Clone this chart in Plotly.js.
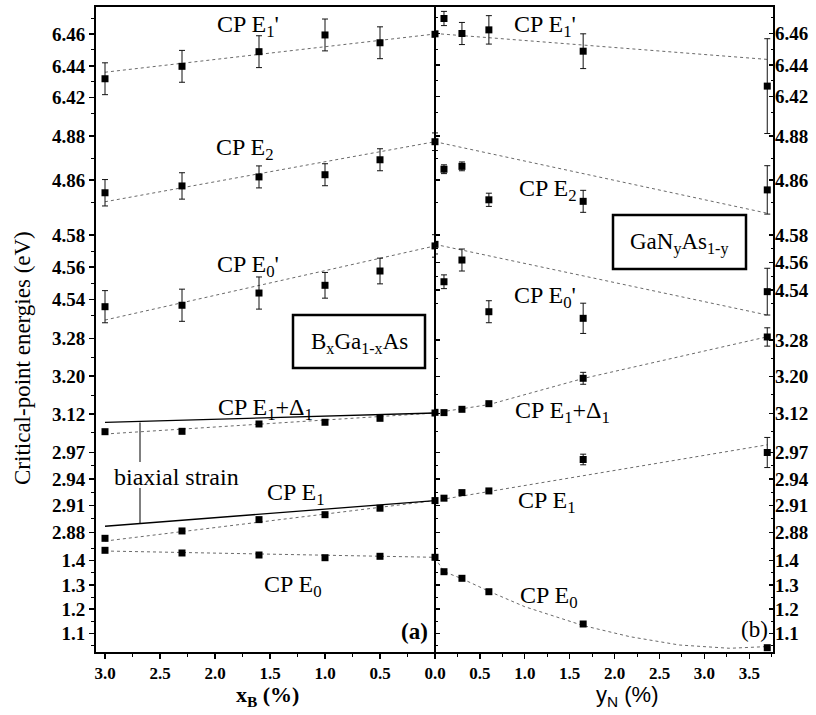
<!DOCTYPE html>
<html><head><meta charset="utf-8">
<script src="https://cdn.plot.ly/plotly-3.0.1.min.js"></script>
<style>html,body{margin:0;padding:0;background:#fff}#chart{width:816px;height:715px}</style>
</head><body><div id="chart"></div>
<script>
// ---------------- DATA ----------------
// Panel (a): BxGa1-xAs, x_B (%)
const xB = [3.0, 2.3, 1.6, 1.0, 0.5, 0.0];
const bE1p    = [6.4319, 6.4397, 6.4489, 6.4594, 6.4545, 6.4598];
const bE1pErr = [0.010, 0.010, 0.010, 0.010, 0.010, 0.0];
const bE2     = [4.8542, 4.8573, 4.8614, 4.8624, 4.8692, 4.8774];
const bE2Err  = [0.006, 0.006, 0.005, 0.005, 0.005, 0.004];
const bE0p    = [4.5354, 4.5363, 4.5439, 4.5487, 4.5576, 4.5732];
const bE0pErr = [0.010, 0.010, 0.010, 0.008, 0.008, 0.007];
const bE1D1   = [3.0826, 3.0834, 3.0989, 3.1025, 3.1109, 3.1221];
const bE1     = [2.8731, 2.8814, 2.8942, 2.8998, 2.9071, 2.9157];
const bE0     = [1.4434, 1.4323, 1.4240, 1.4128, 1.4186, 1.4145];
// fits (a)
const xBfit = [3.0, 0.0];
const bE1pFit  = [6.4360, 6.4600];
const bE2Fit   = [4.8501, 4.8774];
const bE0pFit  = [4.5271, 4.5732];
const bE1D1Fit = [3.0777, 3.1221];
const bE1D1Strain = [3.1025, 3.1221];
const bE1Fit   = [2.8700, 2.9157];
const bE1Strain = [2.8867, 2.9157];
const bE0Fit   = [1.4405, 1.4145];

// Panel (b): GaNyAs1-y, y_N (%)
const yN = [0.0, 0.1, 0.3, 0.6, 1.65, 3.7];
const nE1p    = [6.4598, 6.4695, 6.4600, 6.4623, 6.4488, 6.4267];
const nE1pErr = [0.0, 0.0045, 0.007, 0.009, 0.011, 0.030];
const nE2     = [4.8774, 4.8649, 4.8662, 4.8510, 4.8503, 4.8555];
const nE2Err  = [0.004, 0.002, 0.002, 0.003, 0.005, 0.011];
const nE0p    = [4.5732, 4.5460, 4.5618, 4.5242, 4.5194, 4.5388];
const nE0pErr = [0.007, 0.005, 0.008, 0.008, 0.011, 0.017];
const nE1D1   = [3.1221, 3.1215, 3.1287, 3.1410, 3.1964, 3.2866];
const nE1D1Err= [0, 0, 0, 0, 0.013, 0.020];
const nE1     = [2.9157, 2.9184, 2.9247, 2.9266, 2.9621, 2.9700];
const nE1Err  = [0, 0, 0, 0, 0.006, 0.017];
const nE0     = [1.4145, 1.3549, 1.3276, 1.2721, 1.1385, 1.0404];
// fits (b)
const yNfit = [0.0, 3.7];
const nE1pFit = [6.4600, 6.4436];
const nE2Fit  = [4.8774, 4.8449];
const nE0pFit = [4.5732, 4.5218];
const yNfitD1 = [0.0, 0.6, 1.65, 3.7];
const nE1D1Fit = [3.1210, 3.1390, 3.1960, 3.2870];
const nE1Fit  = [2.9157, 2.9787];
const yNfitE0 = [0.0, 0.1, 0.3, 0.6, 1.0, 1.65, 2.17, 2.72, 3.28, 3.7];
const nE0Fit  = [1.4130, 1.3550, 1.3260, 1.2740, 1.2100, 1.1320, 1.0860, 1.0516, 1.0380, 1.0450];

// tick labels
const xTicksL = [3.0, 2.5, 2.0, 1.5, 1.0, 0.5, 0.0];
const xTicksLText = ['3.0','2.5','2.0','1.5','1.0','0.5','0.0'];
const xTicksR = [0.5, 1.0, 1.5, 2.0, 2.5, 3.0, 3.5];
const xTicksRText = ['0.5','1.0','1.5','2.0','2.5','3.0','3.5'];
const yTickVals = {
  E1p:[6.42,6.44,6.46], E2:[4.86,4.88], E0p:[4.54,4.56,4.58],
  E1D1:[3.12,3.20,3.28], E1:[2.88,2.91,2.94,2.97], E0:[1.1,1.2,1.3,1.4]
};
const yTickText = {
  E1p:['6.42','6.44','6.46'], E2:['4.86','4.88'], E0p:['4.54','4.56','4.58'],
  E1D1:['3.12','3.20','3.28'], E1:['2.88','2.91','2.94','2.97'], E0:['1.1','1.2','1.3','1.4']
};
const yMinor = {
  E1p:[6.41,6.43,6.45,6.47], E2:[4.85,4.87], E0p:[4.53,4.55,4.57],
  E1D1:[3.08,3.16,3.24], E1:[2.895,2.925,2.955], E0:[1.05,1.15,1.25,1.35,1.45]
};

// ---------------- LAYOUT GEOMETRY ----------------
const L=95, R=774, T=6, B=653, XM=435;
const PW=R-L, PH=B-T;
const fx=p=>(p-L)/PW, fy=p=>(B-p)/PH;
function seg(v1,p1,v2,p2,pTop,pBot){
  const s=(v1-v2)/(p2-p1);
  return {range:[v1-(pBot-p1)*s, v1+(p1-pTop)*s], domain:[fy(pBot), fy(pTop)]};
}
const segs = ['E1p','E2','E0p','E1D1','E1','E0'];
const segLeft = [
  seg(6.46,34,6.42,97.7,6,125),
  seg(4.88,136,4.86,180,120,215),
  seg(4.58,235,4.54,299.3,222,330),
  seg(3.28,338.3,3.12,414,325,440),
  seg(2.97,452.5,2.88,532.2,437,547),
  seg(1.4,560.8,1.1,633.3,544,653)
];
const segRight = [
  seg(6.46,33.5,6.42,96.7,6,137),
  seg(4.88,136,4.86,180,128,218),
  seg(4.58,235,4.54,290,222,336),
  seg(3.28,340,3.12,413.3,326,440),
  seg(2.97,452.5,2.88,532.2,436,547),
  seg(1.4,560.8,1.1,633.3,546,653)
];
const SERIF='"Liberation Serif","Times New Roman",serif';
const SANS='"Liberation Sans",Arial,sans-serif';

function yid(panel,k){ const n = panel===0 ? k+1 : k+7; return n===1 ? 'y' : 'y'+n; }
function ykey(id){ return 'yaxis' + (id==='y' ? '' : id.slice(1)); }

const layout = {
  width:816, height:715,
  margin:{l:L, r:816-R, t:T, b:715-B, pad:0},
  paper_bgcolor:'white', plot_bgcolor:'rgba(0,0,0,0)',
  showlegend:false,
  font:{family:SERIF, color:'black'},
  shapes:[], annotations:[]
};
const tickFontX = {family:SERIF, size:17, color:'black', weight:'bold'};
const tickFontY = {family:SERIF, size:19, color:'black', weight:'bold'};
layout.xaxis = {
  domain:[0, fx(XM)], range:[PW*fx(XM)/110, 0], anchor:'y6',
  showgrid:false, zeroline:false, showline:false,
  tickmode:'array', tickvals:xTicksL, ticktext:xTicksLText,
  ticks:'outside', ticklen:5, tickwidth:1.3, tickcolor:'black', tickfont:tickFontX,
  minor:{tickmode:'array', tickvals:[2.75,2.25,1.75,1.25,0.75,0.25], ticks:'outside', ticklen:3, tickwidth:1, tickcolor:'black'}
};
layout.xaxis2 = {
  domain:[fx(XM), 1], range:[0, (R-XM)/89.8], anchor:'y12',
  showgrid:false, zeroline:false, showline:false,
  tickmode:'array', tickvals:xTicksR, ticktext:xTicksRText,
  ticks:'outside', ticklen:5, tickwidth:1.3, tickcolor:'black', tickfont:tickFontX,
  minor:{tickmode:'array', tickvals:[0.25,0.75,1.25,1.75,2.25,2.75,3.25,3.75], ticks:'outside', ticklen:3, tickwidth:1, tickcolor:'black'}
};
segs.forEach((name,k)=>{
  [0,1].forEach(panel=>{
    const sg = panel===0 ? segLeft[k] : segRight[k];
    const id = yid(panel,k);
    layout[ykey(id)] = {
      domain:sg.domain, range:sg.range, anchor: panel===0 ? 'x' : 'x2',
      side: panel===0 ? 'left' : 'right',
      showgrid:false, zeroline:false, showline:false,
      tickmode:'array', tickvals:yTickVals[name], ticktext:yTickText[name],
      ticks: panel===0 ? 'outside' : 'inside', mirror: panel===0 ? false : 'ticks',
      ticklen:5, tickwidth:1.3, tickcolor:'black', tickfont:tickFontY,
      minor:{tickmode:'array', tickvals:yMinor[name], ticks: panel===0 ? 'outside' : 'inside', ticklen:3, tickwidth:1, tickcolor:'black'}
    };
  });
});

// ---------------- TRACES ----------------
const traces = [];
function pts(x,y,err,yaxis,xaxis,size){
  const t = {x:x, y:y, xaxis:xaxis, yaxis:yaxis, type:'scatter', mode:'markers',
    marker:{symbol:'square', size:size||7, color:'black'}, hoverinfo:'skip'};
  if(err) t.error_y = {type:'data', array:err, visible:true, color:'#111', thickness:1, width:3};
  traces.push(t);
}
function fit(x,y,yaxis,xaxis,solid){
  traces.push({x:x, y:y, xaxis:xaxis, yaxis:yaxis, type:'scatter', mode:'lines',
    line: solid ? {color:'black', width:1.3} : {color:'#6a6a6a', width:1, dash:'dot'}, hoverinfo:'skip'});
}
// left panel
fit(xBfit,bE1pFit,'y','x'); pts(xB,bE1p,bE1pErr,'y','x');
fit(xBfit,bE2Fit,'y2','x'); pts(xB,bE2,bE2Err,'y2','x');
fit(xBfit,bE0pFit,'y3','x'); pts(xB,bE0p,bE0pErr,'y3','x');
fit(xBfit,bE1D1Fit,'y4','x'); fit(xBfit,bE1D1Strain,'y4','x',true); pts(xB,bE1D1,null,'y4','x');
fit(xBfit,bE1Fit,'y5','x'); fit(xBfit,bE1Strain,'y5','x',true); pts(xB,bE1,null,'y5','x');
fit(xBfit,bE0Fit,'y6','x'); pts(xB,bE0,null,'y6','x');
// right panel
fit(yNfit,nE1pFit,'y7','x2'); pts(yN,nE1p,nE1pErr,'y7','x2');
fit(yNfit,nE2Fit,'y8','x2'); pts(yN,nE2,nE2Err,'y8','x2');
fit(yNfit,nE0pFit,'y9','x2'); pts(yN,nE0p,nE0pErr,'y9','x2');
fit(yNfitD1,nE1D1Fit,'y10','x2'); pts(yN,nE1D1,nE1D1Err,'y10','x2');
fit(yNfit,nE1Fit,'y11','x2'); pts(yN,nE1,nE1Err,'y11','x2');
fit(yNfitE0,nE0Fit,'y12','x2'); pts(yN,nE0,null,'y12','x2');

// ---------------- FRAME, BOXES, LABELS ----------------
const line = (x0,y0,x1,y1,w)=>({type:'line', xref:'paper', yref:'paper', x0:fx(x0), y0:fy(y0), x1:fx(x1), y1:fy(y1), line:{color:'black', width:w}});
const rect = (x0,y0,x1,y1,w)=>({type:'rect', xref:'paper', yref:'paper', x0:fx(x0), y0:fy(y1), x1:fx(x1), y1:fy(y0), line:{color:'black', width:w}, fillcolor:'rgba(0,0,0,0)'});
layout.shapes.push(rect(L,T,R,B,2));
layout.shapes.push(line(XM,T,XM,B,2));
layout.shapes.push(rect(293,315,425,368,2.5));
layout.shapes.push(rect(613,215,746,269,2.5));
layout.shapes.push(line(140,422.5,140,462,1));
layout.shapes.push(line(140,488,140,523.5,1));

function ann(text,x,y,size,opts){
  layout.annotations.push(Object.assign({text:text, xref:'paper', yref:'paper', x:fx(x), y:fy(y),
    xanchor:'center', yanchor:'middle', showarrow:false,
    font:{family:SERIF, size:size||24, color:'black'}}, opts||{}));
}
ann("CP E<sub>1</sub>'",248,26);
ann("CP E<sub>2</sub>",245,149);
ann("CP E<sub>0</sub>'",248,266);
ann("B<sub>x</sub>Ga<sub>1-x</sub>As",359,343,23);
ann("CP E<sub>1</sub>+Δ<sub>1</sub>",265,409);
ann("biaxial strain",176,477);
ann("CP E<sub>1</sub>",296,494);
ann("CP E<sub>0</sub>",293,586);
ann("(a)",414,631,23,{font:{family:SERIF,size:23,color:'black',weight:'bold'}});
ann("CP E<sub>1</sub>'",545,26);
ann("CP E<sub>2</sub>",548,190);
ann("GaN<sub>y</sub>As<sub>1-y</sub>",679,243,23);
ann("CP E<sub>0</sub>'",545,297);
ann("CP E<sub>1</sub>+Δ<sub>1</sub>",562,412);
ann("CP E<sub>1</sub>",547,502);
ann("CP E<sub>0</sub>",549,597);
ann("(b)",754,629,23);
// axis titles
ann("x<sub>B</sub> (%)",267,696,22,{font:{family:SERIF,size:22,color:'black',weight:'bold'}});
ann("y<sub>N</sub> (%)",627,696,22,{font:{family:SANS,size:22,color:'black'}});
ann("Critical-point energies (eV)",22,358,23,{textangle:-90});

Plotly.newPlot('chart', traces, layout, {displayModeBar:false, staticPlot:true});
</script>
</body></html>
